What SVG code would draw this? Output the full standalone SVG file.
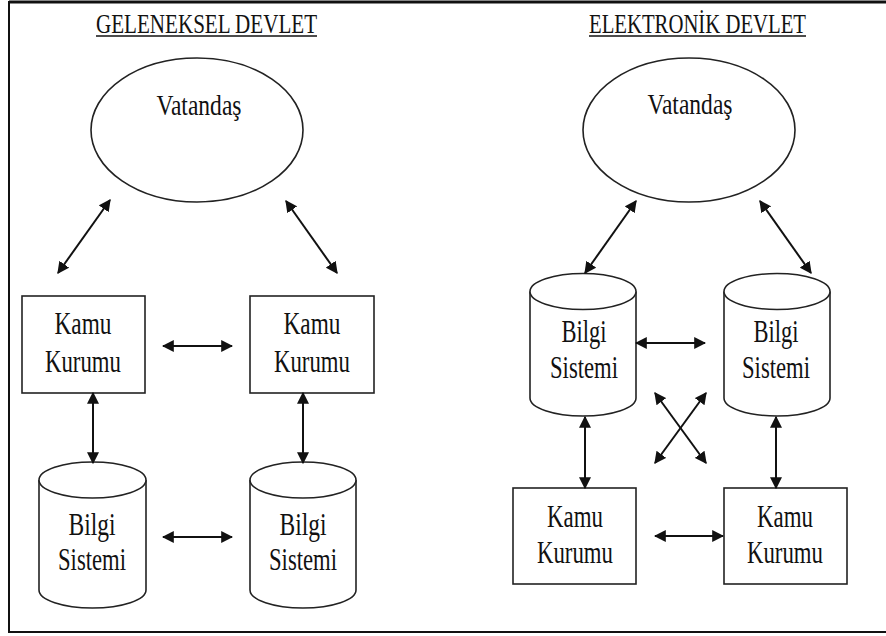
<svg xmlns="http://www.w3.org/2000/svg" width="886" height="636" viewBox="0 0 886 636">
<defs>
<marker id="ah" viewBox="0 0 10 10" markerWidth="6" markerHeight="6" refX="9" refY="5" orient="auto-start-reverse" markerUnits="strokeWidth">
<path d="M0,0 L10,5 L0,10 Z" fill="#111"/>
</marker>
<style>
.t{font-family:"Liberation Serif","Times New Roman",serif;fill:#111;text-anchor:middle;}
.title{font-size:28px;}
.lbl{font-size:31px;}
.v{font-size:29px;}
.shape{fill:#fff;stroke:#222;stroke-width:1.6;}
.c{stroke:#111;stroke-width:2;fill:none;marker-start:url(#ah);marker-end:url(#ah);}
.frame{stroke:#111;fill:none;}
</style>
</defs>
<rect width="886" height="636" fill="#fff"/>
<g id="frame">
<line class="frame" x1="9" y1="2" x2="886" y2="2" stroke-width="3"/>
<line class="frame" x1="9" y1="1" x2="9" y2="633" stroke-width="2"/>
<line class="frame" x1="8" y1="632" x2="886" y2="632" stroke-width="2"/>
</g>
<g id="title-left">
<text class="t title" x="206.5" y="33" textLength="221" lengthAdjust="spacingAndGlyphs">GELENEKSEL DEVLET</text>
<line x1="96" y1="36" x2="317" y2="36" stroke="#111" stroke-width="1.5"/>
</g>
<g id="title-right">
<text class="t title" x="697.5" y="33" textLength="217" lengthAdjust="spacingAndGlyphs">ELEKTRONİK DEVLET</text>
<line x1="589" y1="36" x2="806" y2="36" stroke="#111" stroke-width="1.5"/>
</g>
<g id="L-vatandas">
<ellipse class="shape" cx="197" cy="130" rx="106" ry="72"/>
<text class="t v" x="199" y="115" textLength="85" lengthAdjust="spacingAndGlyphs">Vatandaş</text>
</g>
<g id="L-kamu1">
<rect class="shape" x="22" y="296" width="123" height="97"/>
<text class="t lbl" x="83" y="334" textLength="57" lengthAdjust="spacingAndGlyphs">Kamu</text>
<text class="t lbl" x="83" y="372" textLength="76" lengthAdjust="spacingAndGlyphs">Kurumu</text>
</g>
<g id="L-kamu2">
<rect class="shape" x="250" y="296" width="124" height="97"/>
<text class="t lbl" x="312" y="334" textLength="57" lengthAdjust="spacingAndGlyphs">Kamu</text>
<text class="t lbl" x="312" y="372" textLength="76" lengthAdjust="spacingAndGlyphs">Kurumu</text>
</g>
<g id="L-bilgi1">
<path class="shape" d="M39,480 L39,590 A53.5,18 0 0 0 146,590 L146,480"/>
<ellipse class="shape" cx="92.5" cy="480" rx="53.5" ry="18"/>
<text class="t lbl" x="92" y="535" textLength="47" lengthAdjust="spacingAndGlyphs">Bilgi</text>
<text class="t lbl" x="92" y="570" textLength="68" lengthAdjust="spacingAndGlyphs">Sistemi</text>
</g>
<g id="L-bilgi2">
<path class="shape" d="M250,480 L250,590 A53,18 0 0 0 356,590 L356,480"/>
<ellipse class="shape" cx="303" cy="480" rx="53" ry="18"/>
<text class="t lbl" x="303" y="535" textLength="47" lengthAdjust="spacingAndGlyphs">Bilgi</text>
<text class="t lbl" x="303" y="570" textLength="68" lengthAdjust="spacingAndGlyphs">Sistemi</text>
</g>
<g id="R-vatandas">
<ellipse class="shape" cx="689" cy="130" rx="106" ry="72"/>
<text class="t v" x="690" y="114" textLength="85" lengthAdjust="spacingAndGlyphs">Vatandaş</text>
</g>
<g id="R-bilgi1">
<path class="shape" d="M530,291.5 L530,398 A53,18 0 0 0 636,398 L636,291.5"/>
<ellipse class="shape" cx="583" cy="291.5" rx="53" ry="18"/>
<text class="t lbl" x="584" y="342" textLength="45" lengthAdjust="spacingAndGlyphs">Bilgi</text>
<text class="t lbl" x="584" y="378" textLength="68" lengthAdjust="spacingAndGlyphs">Sistemi</text>
</g>
<g id="R-bilgi2">
<path class="shape" d="M724,291.5 L724,398 A53,18 0 0 0 830,398 L830,291.5"/>
<ellipse class="shape" cx="777" cy="291.5" rx="53" ry="18"/>
<text class="t lbl" x="776" y="342" textLength="45" lengthAdjust="spacingAndGlyphs">Bilgi</text>
<text class="t lbl" x="776" y="378" textLength="68" lengthAdjust="spacingAndGlyphs">Sistemi</text>
</g>
<g id="R-kamu1">
<rect class="shape" x="513" y="488" width="123" height="96"/>
<text class="t lbl" x="575" y="527" textLength="56" lengthAdjust="spacingAndGlyphs">Kamu</text>
<text class="t lbl" x="575" y="563" textLength="76" lengthAdjust="spacingAndGlyphs">Kurumu</text>
</g>
<g id="R-kamu2">
<rect class="shape" x="724" y="488" width="123" height="96"/>
<text class="t lbl" x="785" y="527" textLength="56" lengthAdjust="spacingAndGlyphs">Kamu</text>
<text class="t lbl" x="785" y="563" textLength="76" lengthAdjust="spacingAndGlyphs">Kurumu</text>
</g>
<g id="connectors">
<line class="c" x1="110" y1="200" x2="58" y2="273"/>
<line class="c" x1="286" y1="201" x2="337" y2="273"/>
<line class="c" x1="163" y1="346" x2="232" y2="346"/>
<line class="c" x1="93" y1="393" x2="93" y2="463"/>
<line class="c" x1="303" y1="393" x2="303" y2="463"/>
<line class="c" x1="163" y1="537" x2="232" y2="537"/>
<line class="c" x1="636" y1="201" x2="585" y2="273"/>
<line class="c" x1="760" y1="201" x2="811" y2="273"/>
<line class="c" x1="636" y1="343" x2="705" y2="343"/>
<line class="c" x1="655" y1="393" x2="706" y2="463"/>
<line class="c" x1="706" y1="393" x2="655" y2="463"/>
<line class="c" x1="585" y1="417" x2="585" y2="488"/>
<line class="c" x1="776" y1="417" x2="776" y2="488"/>
<line class="c" x1="655" y1="536" x2="723" y2="536"/>
</g>
</svg>
